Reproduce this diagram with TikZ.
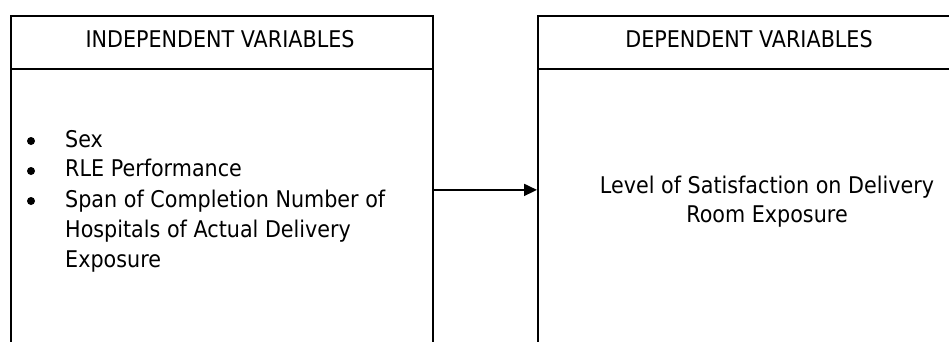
\documentclass[tikz,border=0pt]{standalone}
\usepackage{fontspec}
\setmainfont[FakeStretch=0.9]{DejaVu Sans}
\usetikzlibrary{arrows.meta}
\tikzset{
  boxframe/.style={draw=black, line width=1.8pt, rectangle, inner sep=0pt, anchor=north west},
  label/.style={inner sep=0pt, anchor=base, font=\fontsize{23}{29}\selectfont},
  itemtext/.style={inner sep=0pt, anchor=base west, font=\fontsize{23}{29}\selectfont},
  dot/.style={circle, fill=black, inner sep=0pt, minimum size=8pt},
  arr/.style={line width=1.8pt, -{Triangle[length=13pt,width=12pt]}}
}
\begin{document}
\begin{tikzpicture}[x=1pt,y=-1pt]
\useasboundingbox (0,0) rectangle (949,341);
\fill[white] (0,0) rectangle (949,341);
% boxes (bottoms and right edge run off the page)
\node[boxframe, minimum width=422pt, minimum height=348pt] (ivbox) at (10,15) {};
\node[boxframe, minimum width=424pt, minimum height=348pt] (dvbox) at (537,15) {};
\draw[line width=1.8pt] (ivbox.west |- 0,69) -- (ivbox.east |- 0,69);
\draw[line width=1.8pt] (dvbox.west |- 0,69) -- (dvbox.east |- 0,69);
% titles
\node[label] (ivtitle) at (220,47) {INDEPENDENT VARIABLES};
\node[label] (dvtitle) at (749,47) {DEPENDENT VARIABLES};
% list
\node[dot] (b1) at (31,141) {};
\node[itemtext] (t1) at (65,147) {Sex};
\node[dot] (b2) at (31,171) {};
\node[itemtext] (t2) at (65,176) {RLE Performance};
\node[dot] (b3) at (31,201) {};
\node[itemtext] (t3) at (65,207) {Span of Completion Number of};
\node[itemtext] (t4) at (65,237) {Hospitals of Actual Delivery};
\node[itemtext] (t5) at (65,267) {Exposure};
% dependent text
\node[label] (d1) at (767,193) {Level of Satisfaction on Delivery};
\node[label] (d2) at (767,222) {Room Exposure};
% connector
\draw[arr] (ivbox.east) -- (dvbox.west);
\end{tikzpicture}
\end{document}
